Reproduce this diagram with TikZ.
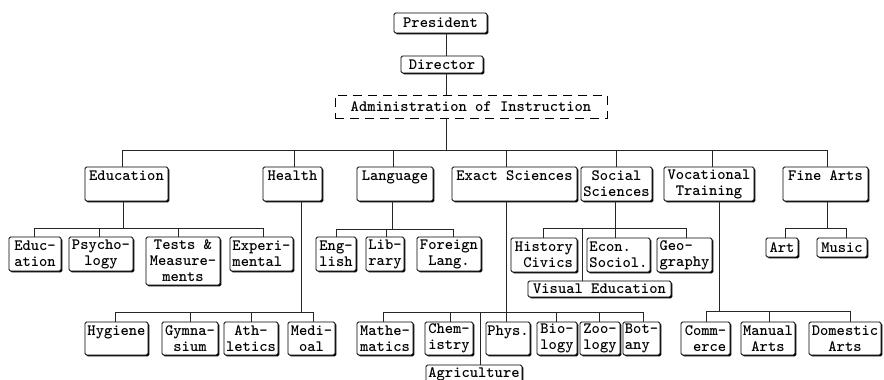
\documentclass[tikz,border=0pt]{standalone}
\usepackage{fontspec}
\usetikzlibrary{shadows}
\newfontfamily\tyface{lmmonolt10-bold.otf}
\newcommand\tyfont{\tyface\fontsize{15.8}{16}\selectfont}
\newcommand\bxnode[7]{\node[bx,minimum width=#4pt,minimum height=#5pt,align=#6] (#1) at (#2,#3) {#7};}
\begin{document}
\begin{tikzpicture}[x=1pt,y=-1pt,
  bx/.style={draw=black, line width=0.8pt, rounded corners=1.5pt, fill=white, inner sep=0pt, font=\tyfont,
    drop shadow={shadow xshift=1.3pt,shadow yshift=-1.3pt,opacity=1,fill=black}},
  dbox/.style={draw=black, line width=0.8pt, dash pattern=on 9pt off 6pt, inner sep=0pt, font=\tyfont},
  ln/.style={line width=0.7pt, draw=black!85}]
\useasboundingbox (0,0) rectangle (884,380);
\fill[white] (0,0) rectangle (884,380);

% top levels
\bxnode{pres}{440.5}{23}{93}{20}{center}{President}
\bxnode{dir}{442}{64.5}{82}{17}{center}{Director}
\node[dbox, minimum width=272pt, minimum height=23pt] (adm) at (471,106.5) {Administration of Instruction};

% level 1
\bxnode{edu}{126.5}{184}{83}{34}{center}{Education\\\mbox{}}
\bxnode{hea}{292.5}{184}{59}{34}{center}{Health\\\mbox{}}
\bxnode{lan}{395}{184}{76}{34}{center}{Language\\\mbox{}}
\bxnode{exa}{514.5}{184}{125}{34}{center}{Exact Sciences\\\mbox{}}
\bxnode{soc}{616.5}{184}{71}{34}{center}{Social\\Sciences}
\bxnode{voc}{709}{184}{90}{34}{center}{Vocational\\Training}
\bxnode{fin}{825.5}{184}{85}{34}{center}{Fine Arts\\\mbox{}}

% education children
\bxnode{e1}{35}{254}{52}{34}{left}{Educ-\\ation}
\bxnode{e2}{101}{254}{64}{34}{center}{Psycho-\\logy}
\bxnode{e3}{183}{261}{74}{48}{center}{Tests \&\\Measure-\\ments}
\bxnode{e4}{261.5}{254}{63}{34}{left}{Experi-\\mental}

% health children
\bxnode{h1}{116.5}{338.5}{63}{33}{center}{Hygiene\\\mbox{}}
\bxnode{h2}{190}{338.5}{56}{33}{center}{Gymna-\\sium}
\bxnode{h3}{251}{338.5}{54}{33}{center}{Ath-\\letics}
\bxnode{h4}{311.5}{338.5}{47}{33}{center}{Medi-\\oal}

% language children
\bxnode{l1}{336}{254}{40}{34}{left}{Eng-\\lish}
\bxnode{l2}{385}{254}{38}{34}{left}{Lib-\\rary}
\bxnode{l3}{449}{254}{64}{34}{center}{Foreign\\Lang.}

% exact sciences children
\bxnode{x1}{385}{338.5}{56}{33}{left}{Mathe-\\matics}
\bxnode{x2}{449}{338.5}{48}{33}{left}{Chem-\\istry}
\bxnode{x3}{508}{338.5}{44}{33}{left}{Phys.\\\mbox{}}
\bxnode{x4}{557}{338.5}{40}{33}{left}{Bio-\\logy}
\bxnode{x5}{600}{338.5}{40}{33}{left}{Zoo-\\logy}
\bxnode{x6}{641.5}{338.5}{37}{33}{left}{Bot-\\any}
\bxnode{agr}{474}{374}{96}{18}{center}{Agriculture}

% social sciences children
\bxnode{s1}{544}{255}{66}{34}{right}{History\\Civics}
\bxnode{s2}{618.5}{255}{63}{34}{left}{Econ.\\Sociol.}
\bxnode{s3}{684.5}{255}{55}{34}{left}{Geo-\\graphy}
\bxnode{vis}{599.5}{289}{143}{16}{center}{Visual Education}

% vocational children
\bxnode{v1}{705.5}{338.5}{49}{33}{right}{Comm-\\erce}
\bxnode{v2}{768}{338.5}{54}{33}{center}{Manual\\Arts}
\bxnode{v3}{845}{338.5}{72}{33}{center}{Domestic\\Arts}

% fine arts children
\bxnode{f1}{782}{247.5}{32}{19}{center}{Art}
\bxnode{f2}{842}{247.5}{50}{19}{center}{Music}

% connectors: top spine
\coordinate (sp) at (446,150);
\draw[ln] (pres.south -| sp) -- (dir.north -| sp);
\draw[ln] (dir.south -| sp) -- (adm.north -| sp);
\draw[ln] (adm.south -| sp) -- (sp);
\draw[ln] (122,150) -- (827,150);
\foreach \n/\x in {edu/122,hea/294,lan/393,exa/506,soc/616,voc/712,fin/827}
  \draw[ln] (\x,150) -- (\x,150 |- \n.north);

% education
\draw[ln] (123,150 |- edu.south) -- (123,228);
\draw[ln] (34,228) -- (263,228);
\foreach \n/\x in {e1/34,e2/99,e3/178,e4/263}
  \draw[ln] (\x,228) -- (\x,228 |- \n.north);

% health
\draw[ln] (301,150 |- hea.south) -- (301,312);
\draw[ln] (115,312) -- (313,312);
\foreach \n/\x in {h1/115,h2/190,h3/251,h4/313}
  \draw[ln] (\x,312) -- (\x,312 |- \n.north);

% language
\draw[ln] (392,150 |- lan.south) -- (392,229);
\draw[ln] (336,229) -- (453,229);
\foreach \n/\x in {l1/336,l2/386,l3/453}
  \draw[ln] (\x,229) -- (\x,229 |- \n.north);

% exact sciences
\draw[ln] (506,150 |- exa.south) -- (506,312);
\draw[ln] (383,312) -- (643,312);
\foreach \n/\x in {x1/383,x2/450,x3/506,x4/556,x5/599,x6/643,agr/480}
  \draw[ln] (\x,312) -- (\x,312 |- \n.north);

% social sciences
\draw[ln] (615,150 |- soc.south) -- (615,228);
\draw[ln] (543,228) -- (686,228);
\foreach \n/\x in {s1/543,s2/615,s3/686,vis/582}
  \draw[ln] (\x,228) -- (\x,228 |- \n.north);

% vocational
\draw[ln] (719,150 |- voc.south) -- (719,311);
\draw[ln] (706,311) -- (850,311);
\foreach \n/\x in {v1/706,v2/769,v3/850}
  \draw[ln] (\x,311) -- (\x,311 |- \n.north);

% fine arts
\draw[ln] (827,150 |- fin.south) -- (827,228);
\draw[ln] (785,228) -- (846,228);
\foreach \n/\x in {f1/785,f2/846}
  \draw[ln] (\x,228) -- (\x,228 |- \n.north);
\end{tikzpicture}
\end{document}
